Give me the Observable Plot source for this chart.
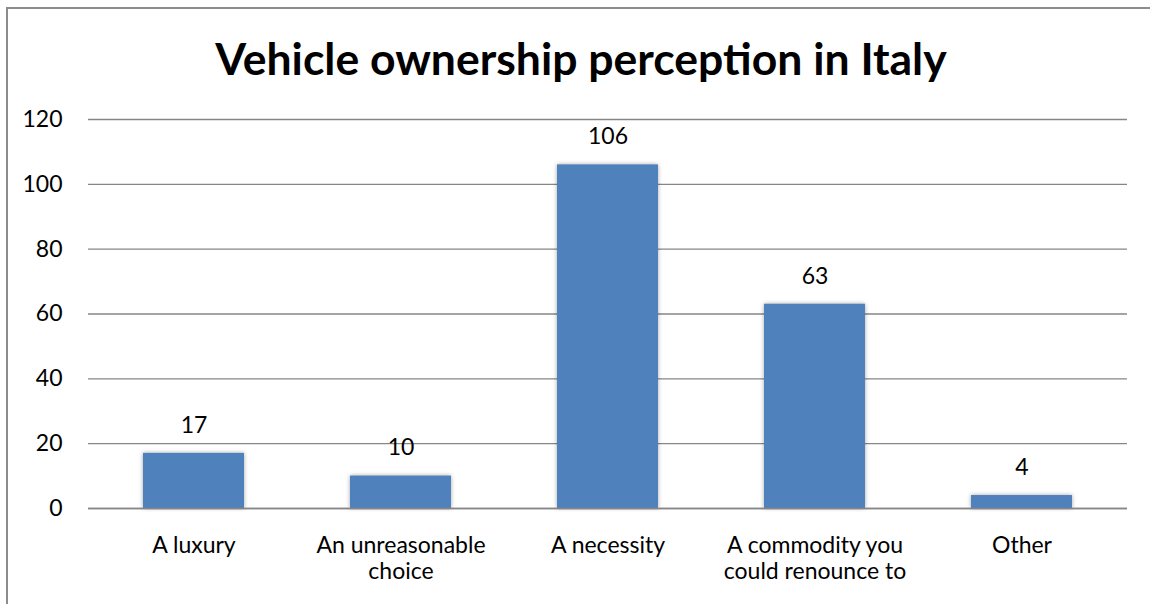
<!DOCTYPE html>
<html>
<head>
<meta charset="utf-8">
<script src="https://cdn.jsdelivr.net/npm/d3@7"></script>
<script src="https://cdn.jsdelivr.net/npm/@observablehq/plot@0.6"></script>
<style>
  html, body { margin: 0; padding: 0; background: #fff; overflow: hidden; }
  #wrap { position: relative; width: 1150px; height: 604px; overflow: hidden; font-family: Lato, "Open Sans", sans-serif; }
  #vline { position: absolute; left: 6px; top: 7px; width: 2px; height: 597px; background: #8c8c8c; }
  #hline { position: absolute; left: 6px; top: 7px; width: 1144px; height: 2px; background: #8c8c8c; }
  #title { position: absolute; left: 0; top: 0; width: 1150px; height: 100px; line-height: 116px; text-align: center; font-weight: bold; font-size: 44.5px; color: #000; padding-left: 12px; box-sizing: border-box; }
  #chart { position: absolute; left: 0; top: 100px; }
</style>
</head>
<body>
<div id="wrap">
  <div id="vline"></div>
  <div id="hline"></div>
  <div id="title">Vehicle ownership perception in Italy</div>
  <div id="chart"></div>
</div>
<script>
const categories = ["A luxury", "An unreasonable choice", "A necessity", "A commodity you could renounce to", "Other"];
const tickLabels = ["A luxury", "An unreasonable\nchoice", "A necessity", "A commodity you\ncould renounce to", "Other"];
const values = [17, 10, 106, 63, 4];
const yTicks = [0, 20, 40, 60, 80, 100, 120];

const data = categories.map((c, i) => ({category: c, value: values[i], label: tickLabels[i]}));
const labelOf = new Map(data.map(d => [d.category, d.label]));

const plot = Plot.plot({
  width: 1150,
  height: 504,
  marginLeft: 88,
  marginRight: 23,
  marginTop: 19,
  marginBottom: 96,
  style: { fontFamily: "Lato, 'Open Sans', sans-serif", fontSize: "23px", color: "#000", background: "transparent" },
  x: { domain: categories, paddingInner: 0.51, paddingOuter: 0.255, label: null },
  y: { domain: [0, 120], label: null },
  marks: [
    Plot.gridY(yTicks, { stroke: "#868686", strokeOpacity: 1, strokeWidth: 1.3 }),
    Plot.barY(data, { x: "category", y: "value", fill: "#4F81BD" }),
    Plot.ruleX([0], { frameAnchor: "left", stroke: "#868686", strokeWidth: 1.3 }),
    Plot.ruleY([0], { stroke: "#868686", strokeWidth: 1.3 }),
    Plot.axisY(yTicks, { tickSize: 0, tickPadding: 26, fontSize: 23, label: null }),
    Plot.axisX({ tickSize: 0, tickPadding: 26, fontSize: 23, lineHeight: 1.13, tickFormat: d => labelOf.get(d), label: null }),
    Plot.text(data, { x: "category", y: "value", text: d => String(d.value), dy: -28, fontSize: 23, fill: "#000" })
  ]
});
document.getElementById("chart").appendChild(plot);
plot.querySelectorAll('g[aria-label="bar"] rect').forEach(r => {
  r.style.filter = "drop-shadow(0px 0px 2px rgba(0,0,0,0.35))";
});
</script>
</body>
</html>
